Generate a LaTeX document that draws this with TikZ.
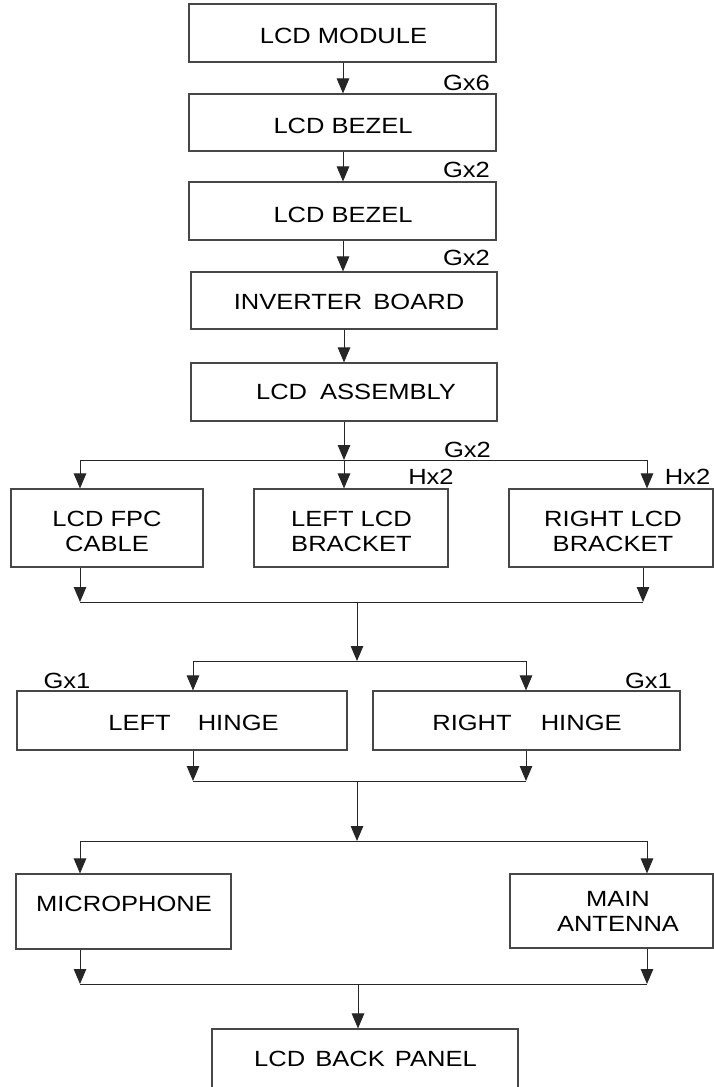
\documentclass[tikz,border=0pt]{standalone}
\usepackage{fontspec}
\setmainfont{Liberation Sans}[FakeStretch=1.16]
\usetikzlibrary{arrows.meta}
\tikzset{
  box/.style={draw=black!72, line width=1.1pt, rectangle, inner sep=0pt},
  txt/.style={font=\fontsize{22}{25}\selectfont, inner sep=0pt},
  mtxt/.style={font=\fontsize{22}{25}\selectfont, inner sep=0pt, align=center},
  qty/.style={font=\fontsize{22}{25}\selectfont, inner sep=0pt},
  conn/.style={draw=black!85, line width=1pt},
  arr/.style={conn, -{Triangle[length=15pt,width=12.5pt]}},
}
\begin{document}
\begin{tikzpicture}[x=1pt,y=-1pt]
\useasboundingbox (0,0) rectangle (714,1087);
% boxes
\node[box, minimum width=307pt, minimum height=58pt] (m)   at (342.5,33)    {};
\node[box, minimum width=307pt, minimum height=57pt] (b1)  at (342.5,122.5) {};
\node[box, minimum width=307pt, minimum height=58pt] (b2)  at (342.5,211)   {};
\node[box, minimum width=306pt, minimum height=57pt] (inv) at (344,300.5)   {};
\node[box, minimum width=306pt, minimum height=58pt] (asm) at (344,392)     {};
\node[box, minimum width=192pt, minimum height=78pt] (fpc) at (107,528)     {};
\node[box, minimum width=194pt, minimum height=78pt] (lb)  at (351,528)     {};
\node[box, minimum width=204pt, minimum height=78pt] (rb)  at (611,528)     {};
\node[box, minimum width=330pt, minimum height=59pt] (lh)  at (182,720.5)   {};
\node[box, minimum width=307pt, minimum height=59pt] (rh)  at (526.5,720.5) {};
\node[box, minimum width=215pt, minimum height=75pt] (mic) at (123.5,911.5) {};
\node[box, minimum width=203pt, minimum height=74pt] (ant) at (611.5,911)   {};
\node[box, minimum width=306pt, minimum height=80pt] (bp)  at (365,1069)    {};
% texts
\node[txt] (mt)   at (343.5,36)  {LCD MODULE};
\node[txt] (b1t)  at (343,126)   {LCD BEZEL};
\node[txt] (b2t)  at (343,214.5) {LCD BEZEL};
\node[txt] (invt) at (349,301.5) {INVERTER\hspace{4pt} BOARD};
\node[txt] (asmt) at (356,392)   {LCD\hspace{6pt} ASSEMBLY};
\node[mtxt] (fpct) at (107,531.5) {LCD FPC\\CABLE};
\node[mtxt] (lbt)  at (351.5,531.5) {LEFT LCD\\BRACKET};
\node[mtxt] (rbt)  at (613,531.5) {RIGHT LCD\\BRACKET};
\node[txt] (lht)  at (193.5,723) {LEFT\hspace{20pt} HINGE};
\node[txt] (rht)  at (527,723)   {RIGHT\hspace{22pt} HINGE};
\node[txt] (mict) at (124,904)   {MICROPHONE};
\node[mtxt] (antt) at (618,911.5) {MAIN\\ANTENNA};
\node[txt] (bpt)  at (365.5,1059) {LCD\hspace{3pt} BACK\hspace{3pt} PANEL};
% quantities
\node[qty] (q1) at (466.5,83)  {Gx6};
\node[qty] (q2) at (466.5,170) {Gx2};
\node[qty] (q3) at (466.5,258) {Gx2};
\node[qty] (q4) at (467.5,450) {Gx2};
\node[qty] (q5) at (431,477)   {Hx2};
\node[qty] (q6) at (687.5,477) {Hx2};
\node[qty] (q7) at (67,681)    {Gx1};
\node[qty] (q8) at (648.5,681) {Gx1};
% junction coordinates
\coordinate (j1) at (344,460);
\coordinate (j1l) at (80,460);
\coordinate (j1r) at (647,460);
\coordinate (j2l) at (80,602);
\coordinate (j2r) at (643,602);
\coordinate (j2) at (357,602);
\coordinate (j3) at (357,661);
\coordinate (j3l) at (193,661);
\coordinate (j3r) at (526,661);
\coordinate (j4l) at (193,781);
\coordinate (j4r) at (526,781);
\coordinate (j4) at (357,781);
\coordinate (j5) at (357,841);
\coordinate (j5l) at (80,841);
\coordinate (j5r) at (647,841);
\coordinate (j6l) at (80,984);
\coordinate (j6r) at (647,984);
\coordinate (j6) at (358,984);
% connectors
\draw[arr] (m.south -| 343,0) -- (b1.north -| 343,0);
\draw[arr] (b1.south -| 343,0) -- (b2.north -| 343,0);
\draw[arr] (b2.south -| 343,0) -- (inv.north -| 343,0);
\draw[arr] (inv.south) -- (asm.north);
\draw[arr] (asm.south) -- (j1);
\draw[conn] (j1l) -- (j1r);
\draw[arr] (j1l) -- (j1l |- fpc.north);
\draw[arr] (j1) -- (j1 |- lb.north);
\draw[arr] (j1r) -- (j1r |- rb.north);
\draw[arr] (j2l |- fpc.south) -- (j2l);
\draw[arr] (j2r |- rb.south) -- (j2r);
\draw[conn] (j2l) -- (j2r);
\draw[arr] (j2) -- (j3);
\draw[conn] (j3l) -- (j3r);
\draw[arr] (j3l) -- (j3l |- lh.north);
\draw[arr] (j3r) -- (j3r |- rh.north);
\draw[arr] (j4l |- lh.south) -- (j4l);
\draw[arr] (j4r |- rh.south) -- (j4r);
\draw[conn] (j4l) -- (j4r);
\draw[arr] (j4) -- (j5);
\draw[conn] (j5l) -- (j5r);
\draw[arr] (j5l) -- (j5l |- mic.north);
\draw[arr] (j5r) -- (j5r |- ant.north);
\draw[arr] (j6l |- mic.south) -- (j6l);
\draw[arr] (j6r |- ant.south) -- (j6r);
\draw[conn] (j6l) -- (j6r);
\draw[arr] (j6) -- (j6 |- bp.north);
\end{tikzpicture}
\end{document}
